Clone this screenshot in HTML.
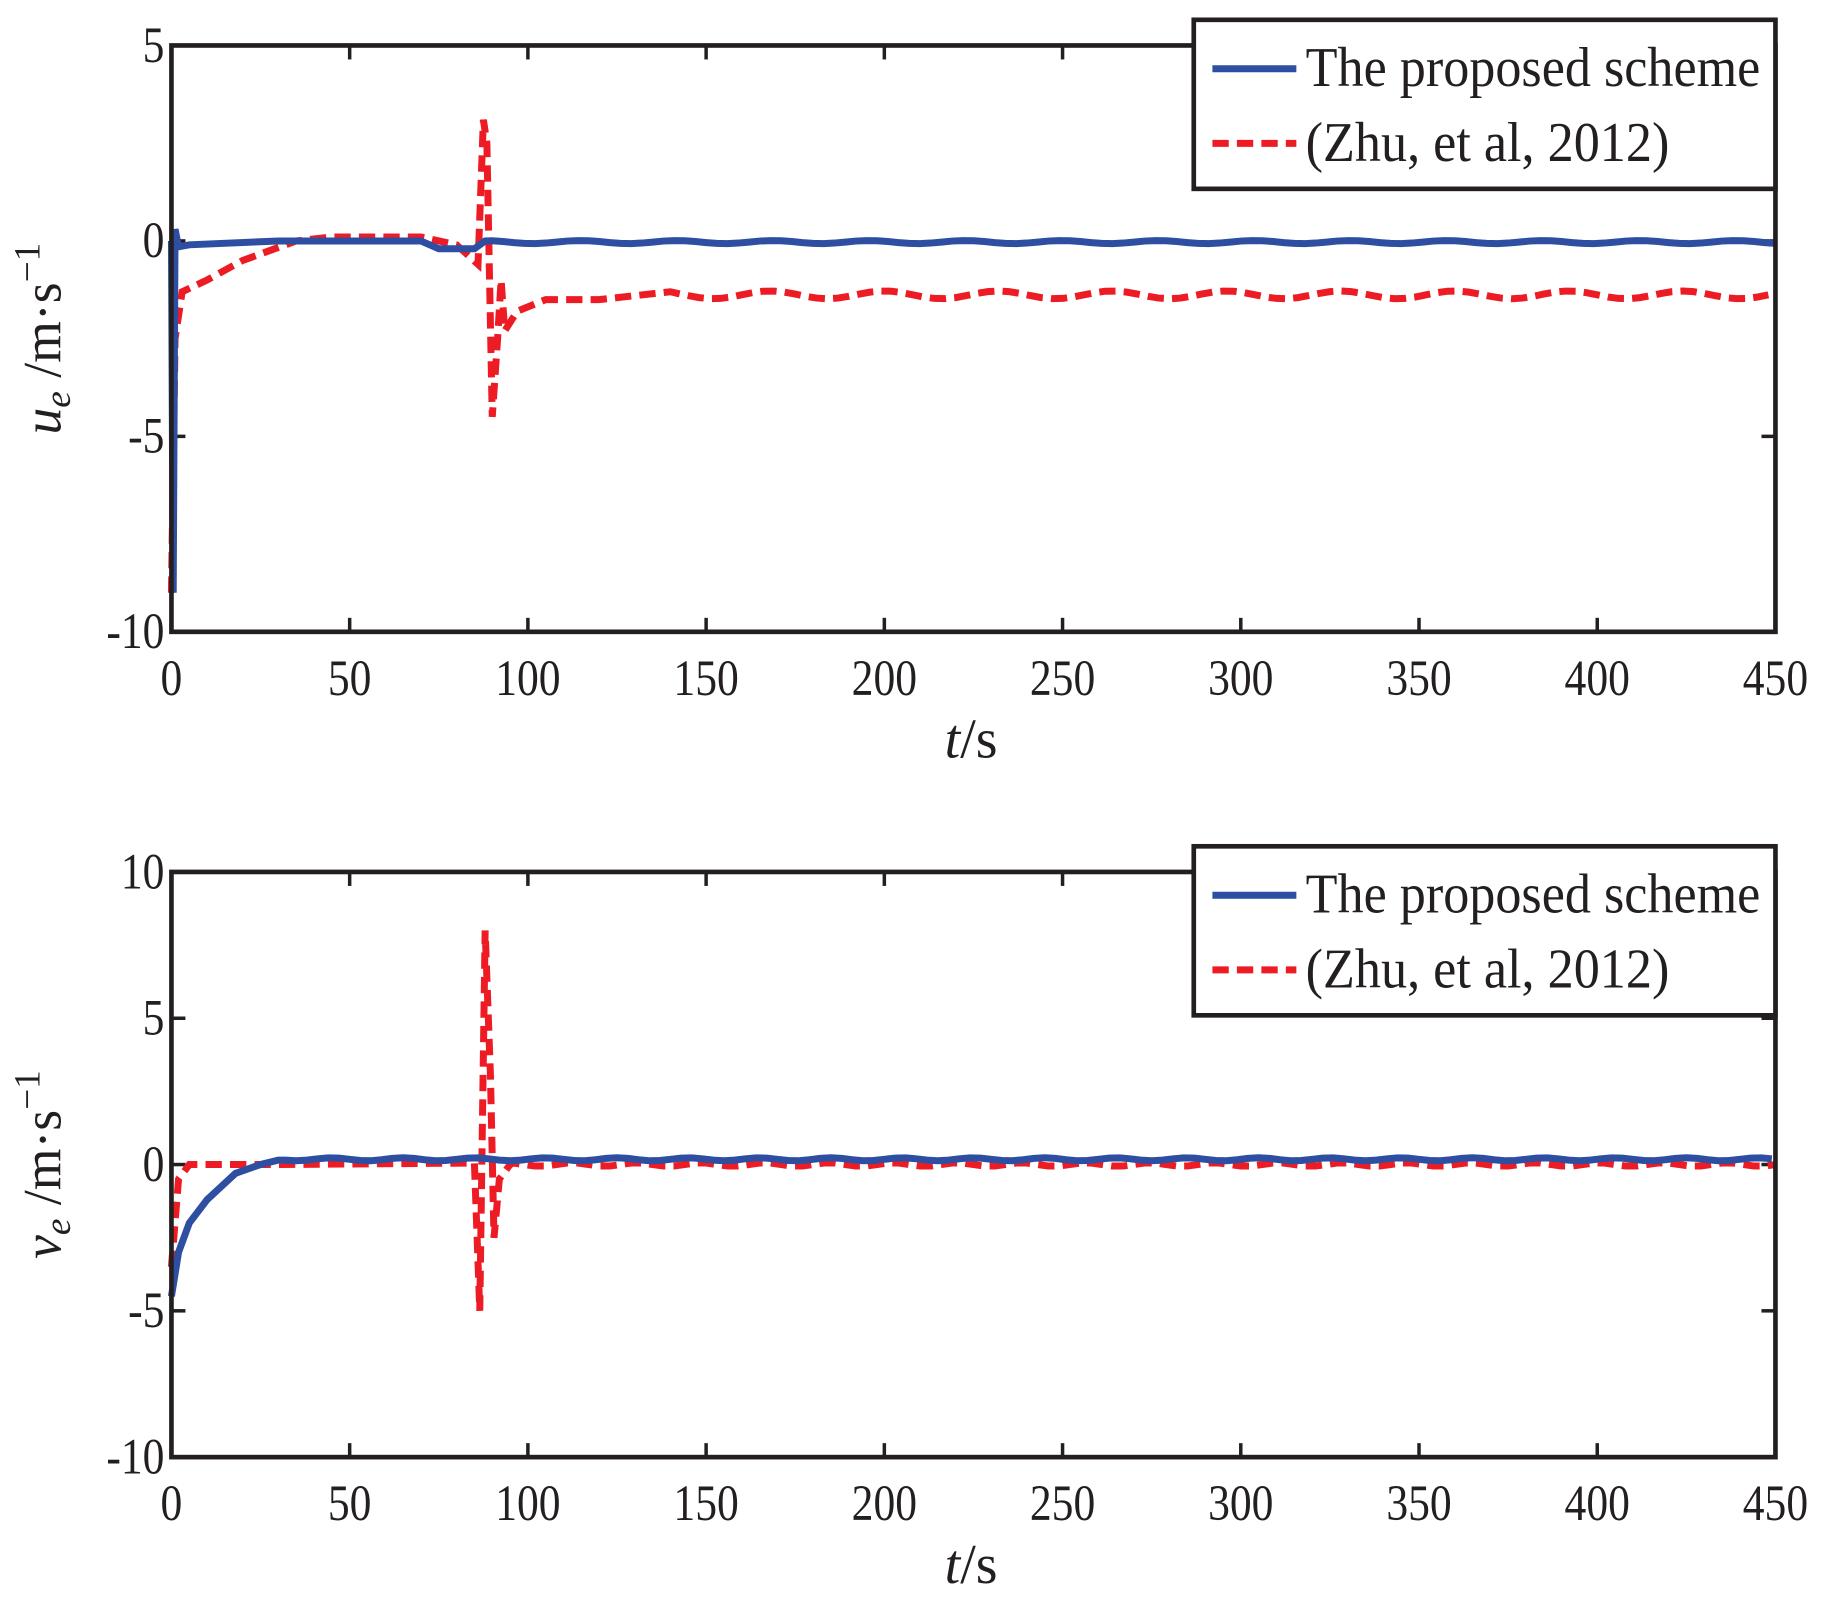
<!DOCTYPE html>
<html><head><meta charset="utf-8"><style>html,body{margin:0;padding:0;background:#fff}svg{display:block}</style></head>
<body>
<svg id="s" xmlns="http://www.w3.org/2000/svg" width="1828" height="1618" viewBox="0 0 1568 1388">
<g font-family="Liberation Serif, serif" fill="#231f20">
<g id="ax"></g>
</g>
</svg>
<script>
const NS="http://www.w3.org/2000/svg",g=document.getElementById('ax');
function el(t,a,txt){const e=document.createElementNS(NS,t);for(const k in a)e.setAttribute(k,a[k]);if(txt!=null)e.textContent=txt;g.appendChild(e);return e;}
const X0=147,X1=1523;const xs=t=>X0+(X1-X0)*t/450;
function tick(x,y,s,anchor){const e=el('text',{x:0,y:0,'font-size':44,'text-anchor':anchor,transform:`translate(${x},${y}) scale(0.85,1)`},s);return e;}
function plot(top,bot,ymin,ymax,yticks,blue,red,lab){
 const ys=v=>bot-(bot-top)*(v-ymin)/(ymax-ymin);
 for(let t=0;t<=450;t+=50){const x=xs(t);el('line',{x1:x,y1:bot,x2:x,y2:bot-12,stroke:'#231f20','stroke-width':3});el('line',{x1:x,y1:top,x2:x,y2:top+12,stroke:'#231f20','stroke-width':3});
  tick(x,bot+54,String(t),'middle');}
 for(const v of yticks){const y=ys(v);el('line',{x1:X0,y1:y,x2:X0+12,y2:y,stroke:'#231f20','stroke-width':3});el('line',{x1:X1,y1:y,x2:X1-12,y2:y,stroke:'#231f20','stroke-width':3});
  tick(X0-6,y+14,String(v),'end');}
 const P=pts=>pts.map(p=>xs(p[0]).toFixed(1)+','+ys(p[1]).toFixed(1)).join(' ');
 el('polyline',{points:P(red),fill:'none',stroke:'#ed1c24','stroke-width':6,'stroke-dasharray':'14 7'});
 el('polyline',{points:P(blue),fill:'none',stroke:'#2e4ea1','stroke-width':6});
 el('rect',{x:X0,y:top,width:X1-X0,height:bot-top,fill:'none',stroke:'#231f20','stroke-width':4});
 const ly=top-22;
 el('rect',{x:1024,y:ly,width:499,height:145,fill:'#fff',stroke:'#231f20','stroke-width':4});
 el('line',{x1:1040,y1:ly+42,x2:1112,y2:ly+42,stroke:'#2e4ea1','stroke-width':6});
 el('line',{x1:1040,y1:ly+106,x2:1112,y2:ly+106,stroke:'#ed1c24','stroke-width':6,'stroke-dasharray':'14 7'});
 el('text',{x:1120,y:ly+57,'font-size':48,textLength:390,lengthAdjust:'spacingAndGlyphs'},'The proposed scheme');
 el('text',{x:1120,y:ly+121,'font-size':48,textLength:312,lengthAdjust:'spacingAndGlyphs'},'(Zhu, et al, 2012)');
 el('text',{x:833,y:bot+108,'font-size':48,'text-anchor':'middle'},'').innerHTML='<tspan font-style="italic">t</tspan>/s';
 const cy=(top+bot)/2;
 const tl=el('text',{x:0,y:0,'font-size':46,'text-anchor':'middle',transform:`translate(52,${cy}) rotate(-90)`},'');
 tl.innerHTML='<tspan font-style="italic">'+lab+'</tspan><tspan font-style="italic" font-size="32" dy="8">e</tspan><tspan dy="-8"> /m·s</tspan><tspan font-size="32" dy="-18">−1</tspan>';
}
function wig(a,b,base,amp,per,step){const r=[];for(let t=a;t<=b;t+=step){r.push([t,base+amp*Math.sin(2*Math.PI*t/per)]);}return r;}
let b1=[[0,0],[0.5,-9],[1,0.3],[2,-0.15],[5,-0.1],[30,0],[70,0],[75,-0.2],[85,-0.2],[88,0]].concat(wig(90,450,-0.03,0.04,27,3));
let r1=[[0,-9],[1,-2.5],[3,-1.3],[10,-1],[20,-0.5],[35,0],[45,0.1],[70,0.1],[80,-0.1],[86,-0.6],[87.5,3.1],[88.5,2.5],[90,-4.5],[91.5,-2.5],[92.5,-1],[93.5,-2.3],[97,-1.8],[105,-1.5],[120,-1.5],[140,-1.3]].concat(wig(142,450,-1.38,0.1,32,3));
plot(39,542,-10,5,[5,0,-5,-10],b1,r1,'u');
let b2=[[0,-4.5],[2,-3],[5,-2],[10,-1.2],[18,-0.3],[25,0],[30,0.15]].concat(wig(32,450,0.18,0.05,20,3));
let r2=[[0,-3.5],[2,-0.5],[5,0],[30,0],[85,0.05],[86.5,-5],[88,8],[89.5,3],[90.5,-2.5],[92,-0.5],[95,0]].concat(wig(96,450,0,0.06,18,3));
plot(748,1250,-10,10,[10,5,0,-5,-10],b2,r2,'v');
</script>
</body></html>
